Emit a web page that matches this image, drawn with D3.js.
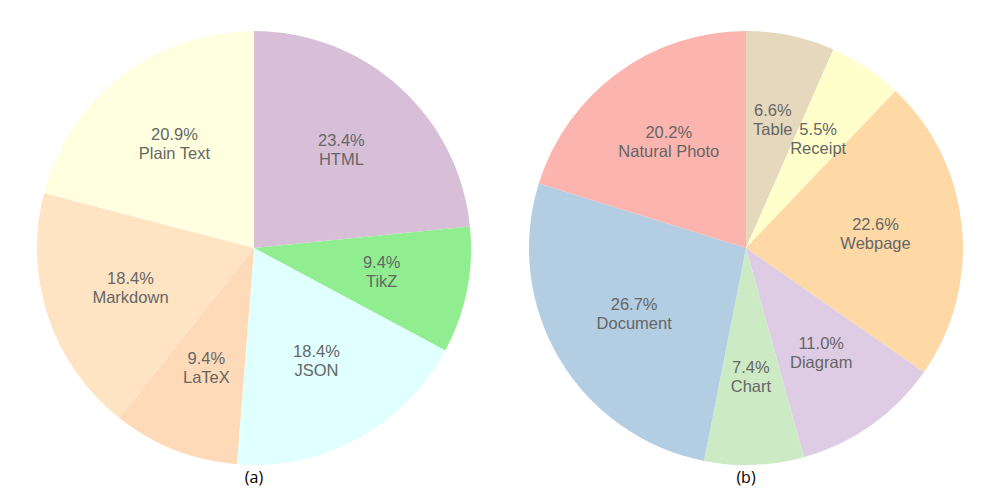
<!DOCTYPE html>
<html>
<head>
<meta charset="utf-8">
<script src="https://cdn.jsdelivr.net/npm/d3@7"></script>
<style>
  body { margin: 0; background: #fff; }
  svg { display: block; }
</style>
</head>
<body>
<svg id="chart" width="1000" height="500"></svg>
<script>
// pie (a): output formats
const formatLabels = ["HTML", "TikZ", "JSON", "LaTeX", "Markdown", "Plain Text"];
const formatValues = [23.4, 9.4, 18.4, 9.4, 18.4, 20.9];
const formatColors = ["#d8bfd8", "#90ee90", "#e0ffff", "#ffdab9", "#ffe4c4", "#ffffe0"];

// pie (b): image sources
const sourceLabels = ["Table", "Receipt", "Webpage", "Diagram", "Chart", "Document", "Natural Photo"];
const sourceValues = [6.6, 5.5, 22.6, 11.0, 7.4, 26.7, 20.2];
const sourceColors = ["#e5d8bd", "#ffffcc", "#fed9a6", "#decbe4", "#ccebc5", "#b3cde3", "#fbb4ae"];

const captions = ["(a)", "(b)"];

const svg = d3.select("#chart");
const radius = 217;
const pctDistance = 0.6;

const drawPie = (cx, cy, labels, values, colors, caption) => {
    const data = labels.map((l, i) => ({ label: l, value: values[i], color: colors[i] }));
    const pie = d3.pie().value(d => d.value).sort(null);
    const arc = d3.arc().innerRadius(0).outerRadius(radius);
    const labelArc = d3.arc().innerRadius(radius * pctDistance).outerRadius(radius * pctDistance);

    const g = svg.append("g").attr("transform", `translate(${cx},${cy})`);

    g.selectAll("path.slice")
        .data(pie(data))
        .join("path")
        .attr("class", "slice")
        .attr("d", arc)
        .attr("fill", d => d.data.color);

    const texts = g.selectAll("text.lbl")
        .data(pie(data))
        .join("text")
        .attr("class", "lbl")
        .attr("transform", d => `translate(${labelArc.centroid(d)})`)
        .attr("text-anchor", "middle")
        .attr("fill", "#666666")
        .style("font-family", "'Liberation Sans', Arial, sans-serif")
        .style("font-size", "16.5px");

    texts.append("tspan")
        .attr("x", 0)
        .attr("y", -5)
        .text(d => d.data.value.toFixed(1) + "%");
    texts.append("tspan")
        .attr("x", 0)
        .attr("y", 14)
        .text(d => d.data.label);

    svg.append("text")
        .attr("x", cx)
        .attr("y", cy + radius + 18)
        .attr("text-anchor", "middle")
        .attr("fill", "#000")
        .style("font-family", "'Open Sans', sans-serif")
        .style("font-size", "16px")
        .text(caption);
}

drawPie(254, 248, formatLabels, formatValues, formatColors, captions[0]);
drawPie(746, 248, sourceLabels, sourceValues, sourceColors, captions[1]);
</script>
</body>
</html>
